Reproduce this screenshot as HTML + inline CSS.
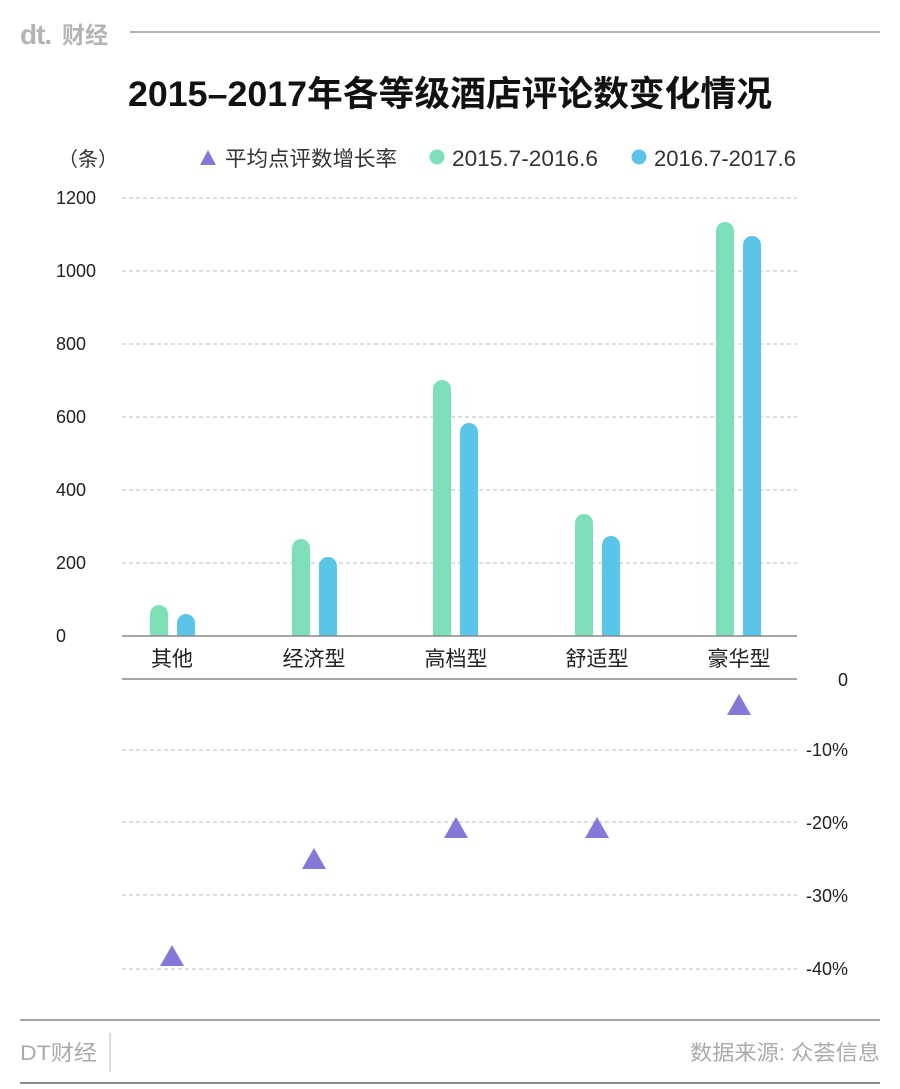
<!DOCTYPE html>
<html><head><meta charset="utf-8"><style>
html,body{margin:0;padding:0;background:#fff;}
svg{display:block;}
text{font-family:"Liberation Sans","Noto Sans CJK SC",sans-serif;}
</style></head><body>
<svg width="900" height="1089" viewBox="0 0 900 1089" xmlns="http://www.w3.org/2000/svg">
<rect width="900" height="1089" fill="#fff"/>
<!-- header -->
<text x="20" y="44" font-size="28" font-weight="bold" fill="#b4b4b4" letter-spacing="-1">dt.</text>
<text x="62" y="43" font-size="23" font-weight="bold" fill="#b4b4b4">财经</text>
<line x1="130" y1="32" x2="880" y2="32" stroke="#999" stroke-width="1.5"/>
<text x="450" y="106" font-size="35" font-weight="bold" fill="#111" text-anchor="middle" textLength="644" lengthAdjust="spacingAndGlyphs">2015–2017年各等级酒店评论数变化情况</text>
<!-- legend -->
<text x="58" y="166" font-size="20" fill="#333">（条）</text>
<polygon points="208,150 216,165 200,165" fill="#8478d8"/>
<text x="225" y="166" font-size="21" fill="#333" textLength="172" lengthAdjust="spacingAndGlyphs">平均点评数增长率</text>
<circle cx="437" cy="157" r="7.5" fill="#7de0b9"/>
<text x="452" y="166" font-size="22" fill="#333" textLength="146" lengthAdjust="spacingAndGlyphs">2015.7-2016.6</text>
<circle cx="639" cy="157" r="7.5" fill="#5bc5e8"/>
<text x="654" y="166" font-size="22" fill="#333" textLength="142" lengthAdjust="spacingAndGlyphs">2016.7-2017.6</text>
<!-- grid -->
<g stroke="#bbb" stroke-width="1" stroke-dasharray="4,3">
<line x1="122" y1="198" x2="797" y2="198"/>
<line x1="122" y1="271" x2="797" y2="271"/>
<line x1="122" y1="344" x2="797" y2="344"/>
<line x1="122" y1="417" x2="797" y2="417"/>
<line x1="122" y1="490" x2="797" y2="490"/>
<line x1="122" y1="563" x2="797" y2="563"/>
<line x1="122" y1="750" x2="797" y2="750"/>
<line x1="122" y1="822" x2="797" y2="822"/>
<line x1="122" y1="895" x2="797" y2="895"/>
<line x1="122" y1="969" x2="797" y2="969"/>
</g>
<g font-size="18" fill="#222">
<text x="56" y="204">1200</text>
<text x="56" y="277">1000</text>
<text x="56" y="350">800</text>
<text x="56" y="423">600</text>
<text x="56" y="496">400</text>
<text x="56" y="569">200</text>
<text x="56" y="642">0</text>
</g>
<g font-size="18" fill="#222" text-anchor="end">
<text x="848" y="686">0</text>
<text x="848" y="756">-10%</text>
<text x="848" y="829">-20%</text>
<text x="848" y="902">-30%</text>
<text x="848" y="975">-40%</text>
</g>
<!-- bars -->
<g fill="#7de0b9">
<path d="M150,636 V614 a9,9 0 0 1 18,0 V636Z"/>
<path d="M292,636 V548 a9,9 0 0 1 18,0 V636Z"/>
<path d="M433,636 V389 a9,9 0 0 1 18,0 V636Z"/>
<path d="M575,636 V523 a9,9 0 0 1 18,0 V636Z"/>
<path d="M716,636 V231 a9,9 0 0 1 18,0 V636Z"/>
</g>
<g fill="#5bc5e8">
<path d="M177,636 V623 a9,9 0 0 1 18,0 V636Z"/>
<path d="M319,636 V566 a9,9 0 0 1 18,0 V636Z"/>
<path d="M460,636 V432 a9,9 0 0 1 18,0 V636Z"/>
<path d="M602,636 V545 a9,9 0 0 1 18,0 V636Z"/>
<path d="M743,636 V245 a9,9 0 0 1 18,0 V636Z"/>
</g>
<line x1="122" y1="636" x2="797" y2="636" stroke="#888" stroke-width="1.5"/>
<line x1="122" y1="679" x2="797" y2="679" stroke="#888" stroke-width="1.5"/>
<g font-size="21" fill="#222" text-anchor="middle">
<text x="172" y="666">其他</text>
<text x="314" y="666">经济型</text>
<text x="456" y="666">高档型</text>
<text x="597" y="666">舒适型</text>
<text x="739" y="666">豪华型</text>
</g>
<!-- triangles -->
<g fill="#8478d8">
<polygon points="172,945 184,966 160,966"/>
<polygon points="314,848 326,869 302,869"/>
<polygon points="456,817 468,838 444,838"/>
<polygon points="597,817 609,838 585,838"/>
<polygon points="739,694 751,715 727,715"/>
</g>
<!-- footer -->
<line x1="20" y1="1020" x2="880" y2="1020" stroke="#888" stroke-width="1.5"/>
<line x1="110" y1="1033" x2="110" y2="1072" stroke="#bbb" stroke-width="1"/>
<text x="20" y="1060" font-size="21" fill="#aaa" textLength="77" lengthAdjust="spacingAndGlyphs">DT财经</text>
<text x="880" y="1060" font-size="21" fill="#aaa" text-anchor="end" textLength="190" lengthAdjust="spacingAndGlyphs">数据来源: 众荟信息</text>
<line x1="20" y1="1083" x2="880" y2="1083" stroke="#666" stroke-width="1.5"/>
</svg>
</body></html>
